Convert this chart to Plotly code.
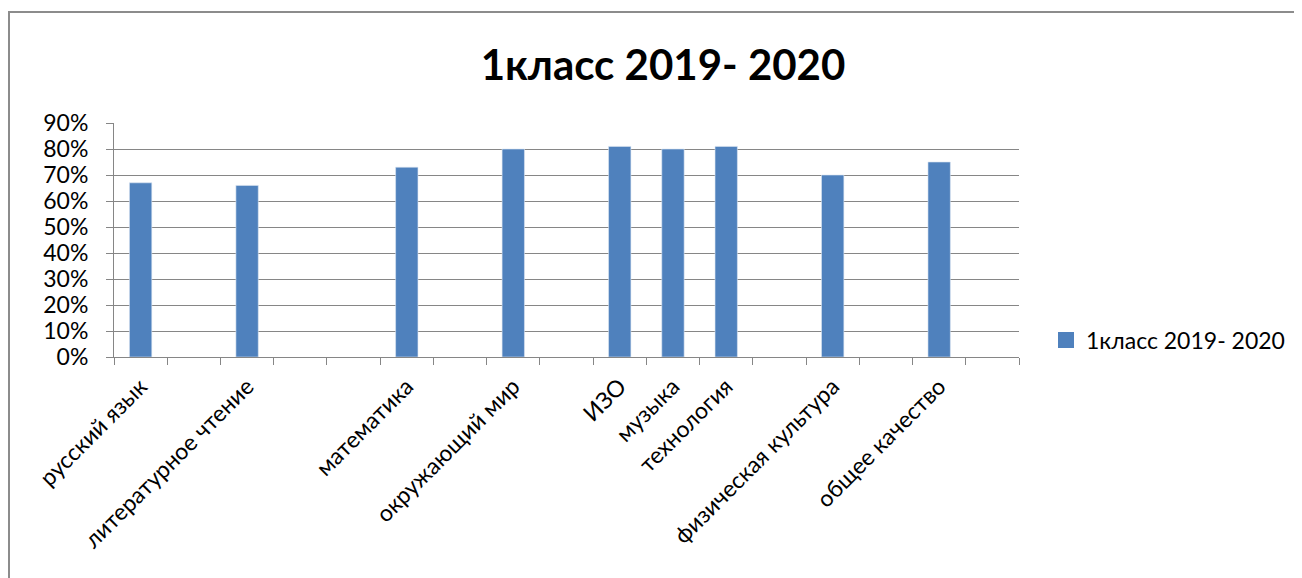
import plotly.graph_objects as go

categories = ["русский язык", " ", "литературное чтение", "  ", "   ", "математика", "    ",
              "окружающий мир", "     ", "ИЗО", "музыка", "технология", "      ",
              "физическая культура", "       ", "общее качество", "        "]
values = [0.67, None, 0.66, None, None, 0.73, None, 0.80, None, 0.81, 0.80, 0.81, None,
          0.70, None, 0.75, None]
series_name = "1класс 2019- 2020"
title_text = "1класс 2019- 2020"

OFF = 8  # page body margin
W, H = 1302 - OFF, 578 - OFF
L, R, T, B = 114 - OFF, 1019 - OFF, 123 - OFF, 357 - OFF
FONT = "Lato, 'Open Sans', sans-serif"
BAR_COLOR = "#4F81BD"

def px_x(px):
    return (px - OFF - L) / (R - L)

def px_y(py):
    return (B - (py - OFF)) / (B - T)

fig = go.Figure()
fig.add_trace(go.Bar(
    x=categories, y=values, name=series_name,
    marker=dict(color=BAR_COLOR, line=dict(color="#dce6f2", width=0.6)),
    showlegend=False,
))
# legend entry (square swatch)
fig.add_trace(go.Scatter(
    x=[None], y=[None], mode="markers", name=series_name,
    marker=dict(symbol="square", size=16, color=BAR_COLOR),
    showlegend=True,
))

fig.update_layout(
    width=W, height=H,
    margin=dict(l=L, r=W - R, t=T, b=H - B, pad=0),
    paper_bgcolor="white", plot_bgcolor="white",
    font=dict(family=FONT, color="black", size=22),
    bargap=0.58,
    title=dict(text="<b>" + title_text + "</b>", x=(663 - OFF) / W, xanchor="center",
               y=1 - (65 - OFF) / H, yanchor="middle", font=dict(size=42, family=FONT)),
    showlegend=True,
    legend=dict(x=px_x(1046), y=px_y(340), xanchor="left", yanchor="middle",
                itemsizing="trace",
                font=dict(size=23, family=FONT), bgcolor="rgba(0,0,0,0)"),
    xaxis=dict(type="category", tickangle=-45, showgrid=False, showline=True,
               linecolor="#868686", linewidth=1, ticks="outside", tickson="boundaries",
               ticklen=7, tickcolor="#868686", tickfont=dict(size=23, family=FONT),
               ticklabelstandoff=6,
               range=[-0.5, len(categories) - 0.5]),
    yaxis=dict(range=[0, 0.9], dtick=0.1, tickformat=".0%", showgrid=True,
               gridcolor="#868686", gridwidth=1, showline=True, linecolor="#868686",
               ticks="outside", ticklen=7, tickcolor="#868686", zeroline=False,
               ticklabelstandoff=13,
               tickfont=dict(size=23, family=FONT)),
    shapes=[dict(type="rect", xref="paper", yref="paper",
                 x0=px_x(9), x1=px_x(1320), y0=px_y(600), y1=px_y(12),
                 line=dict(color="#8c8c8c", width=2), fillcolor="rgba(0,0,0,0)",
                 layer="below")],
)

fig.write_html("out.html")
